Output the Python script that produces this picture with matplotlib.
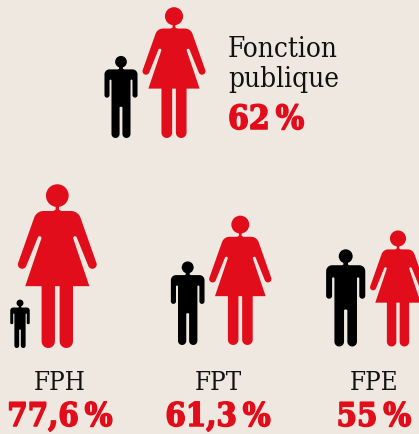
import numpy as np
import matplotlib
matplotlib.use("Agg")
import matplotlib.pyplot as plt
from matplotlib.patches import Polygon, Circle
import matplotlib.patheffects as pe

# --- data ---
group_lines = ["Fonction", "publique"]
groups = ["FPH", "FPT", "FPE"]
women_share = [62.0, 77.6, 61.3, 55.0]
value_labels = ["62\u202f%", "77,6\u202f%", "61,3\u202f%", "55\u202f%"]

# --- layout (pixels) ---
woman_x = [174, 57.3, 240.3, 398]
man_x = [121, 20, 187.7, 345.7]
base_y = [138, 348, 345, 346.5]
PX_PER_PCT_W = 2.11
PX_PER_PCT_M = 2.16
BG = "#EEE8E1"
RED = "#E10D1A"


def arc(cx, cy, r, a0, a1, n=14):
    t = np.radians(np.linspace(a0, a1, n))
    return list(zip(cx + r * np.cos(t), cy + r * np.sin(t)))


def mirrored(right):
    right = np.array(right, float)
    left = right[::-1] * np.array([-1, 1])
    return np.vstack([right, left])


def woman_shape():
    pts = [(5, 90), (5, 104), (12, 108), (41, 108)]
    pts += arc(41, 138, 30, -90, -18)
    pts += arc(105, 268, 13, -21.5, 158.5)
    pts += arc(53, 189, 5.5, -21, -200)
    pts += [(96, 333), (47, 333)]
    pts += arc(27, 498, 20, 0, 180)
    pts += [(7, 333), (0, 333)]
    return (mirrored(pts) - np.array([0, 28])) / 490.0, (0, 34 / 490.0), 34 / 490.0


def man_shape():
    pts = [(7, 36), (7, 46), (11, 48), (41, 48)]
    pts += arc(41, 66, 18, -90, 0)
    pts += arc(50, 140, 9, 0, 180)
    pts += arc(37.5, 88, 3.5, 0, -180)
    pts += arc(19.5, 278.5, 14.5, 0, 180)
    pts += [(5, 183), (0, 181)]
    return mirrored(pts) / 293.0, (0, 21 / 293.0), 21 / 293.0


def draw(ax, shape, cx, bottom, height, color):
    outline, head, r = shape
    top = bottom - height
    xy = outline * height + np.array([cx, top])
    ax.add_patch(Polygon(xy, closed=True, fc=color, ec="none"))
    ax.add_patch(Circle((cx + head[0] * height, top + head[1] * height), r * height, fc=color, ec="none"))


fig = plt.figure(figsize=(4.19, 4.34), dpi=100, facecolor=BG)
ax = fig.add_axes([0, 0, 1, 1])
ax.set_xlim(0, 419)
ax.set_ylim(434, 0)
ax.axis("off")

W, M = woman_shape(), man_shape()
for share, wx, mx, by in zip(women_share, woman_x, man_x, base_y):
    draw(ax, W, wx, by, share * PX_PER_PCT_W, RED)
    draw(ax, M, mx, by, (100 - share) * PX_PER_PCT_M, "black")

thick = [pe.withStroke(linewidth=1.1, foreground=RED)]
serif = dict(family="DejaVu Serif", stretch="condensed", color="#111111", va="baseline")
heavy = dict(family="DejaVu Serif", stretch="condensed", weight="bold", color=RED, va="baseline", path_effects=thick)
ax.text(228, 57, group_lines[0], fontsize=20, ha="left", **serif)
ax.text(228, 87, group_lines[1], fontsize=20, ha="left", **serif)
ax.text(228, 129, value_labels[0], fontsize=24, ha="left", **heavy)
for g, v, x in zip(groups, value_labels[1:], [60, 218, 374]):
    ax.text(x, 390, g, fontsize=18.5, ha="center", **serif)
    ax.text(x, 426, v, fontsize=23.5, ha="center", **heavy)

fig.savefig("out.png", dpi=100, facecolor=BG)
